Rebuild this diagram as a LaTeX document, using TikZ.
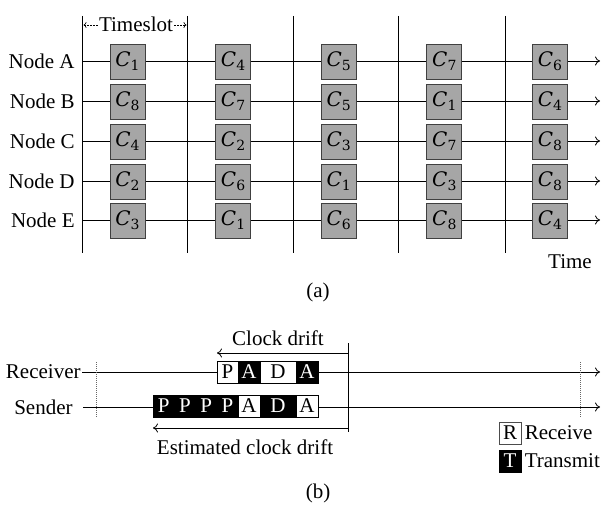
\documentclass[tikz,border=0pt]{standalone}
\usepackage{fontspec}
\setmainfont{Liberation Serif}
\newfontfamily\cfont{DejaVu Serif}
\usetikzlibrary{arrows.meta}
\newcommand{\cname}[1]{{\cfont\fontsize{20}{24}\selectfont\itshape C}{\cfont\fontsize{14}{16}\selectfont\raisebox{-4pt}{#1}}}
\begin{document}
\begin{tikzpicture}[x=1pt,y=-1pt,
  font=\fontsize{21}{25}\selectfont,
  line width=0.8pt,
  cbox/.style={draw=black!75, fill=black!35, minimum width=35pt, minimum height=35pt, inner sep=0pt},
  wcell/.style={draw=black, fill=white, text=black, minimum height=22pt, inner sep=0pt},
  bcell/.style={draw=black, fill=black, text=white, minimum height=22pt, inner sep=0pt},
  tip/.style={-{To[length=5pt,width=9pt]}},
  dots/.style={draw=black!60, dash pattern=on 1pt off 1pt},
  lbl/.style={inner sep=1pt}]
\useasboundingbox (0,0) rectangle (602,505);

% ---------- part (a) ----------
\foreach \x [count=\i] in {82.5,187.5,293,398,505} {
  \coordinate (vt\i) at (\x,16);
  \coordinate (vb\i) at (\x,253);
  \draw (vt\i) -- (vb\i);
}

\foreach \r/\y/\vals in {A/61/{1,4,5,7,6},B/101/{8,7,5,1,4},C/141/{4,2,3,7,8},D/181/{2,6,1,3,8},E/220/{3,1,6,8,4}} {
  \node[lbl, anchor=east] (lab\r) at (76,\y) {Node \r};
  \coordinate (rs\r) at (82.5,\y);
  \coordinate (re\r) at (600,\y);
  \draw[tip] (rs\r) -- (re\r);
  \foreach \c [count=\j, evaluate=\j as \xx using 127.5+(\j-1)*105.6] in \vals {
    \node[cbox] (c\r\j) at (\xx,\y+0.5) {\cname{\c}};
  }
}

\node[inner sep=1pt] (ts) at (136,24) {Timeslot};
\coordinate (tsl) at (83.5,25);
\coordinate (tsr) at (186.5,25);
\draw[dash pattern=on 2pt off 1pt, line width=0.6pt, -{To[length=3pt,width=6pt]}] (ts.west|-tsl) -- (tsl);
\draw[dash pattern=on 2pt off 1pt, line width=0.6pt, -{To[length=3pt,width=6pt]}] (ts.east|-tsr) -- (tsr);

\node (time) at (570,262) {Time};
\node (capa) at (318,292) {(a)};

% ---------- part (b) ----------
\node (cd) at (278,338) {Clock drift};
\coordinate (cdr) at (348,353);
\coordinate (cdl) at (217,353);
\draw[tip] (cdr) -- (cdl);
\coordinate (mt) at (348,343);
\coordinate (mb) at (348,432);
\draw (mt) -- (mb);

\node[lbl, anchor=east] (rcv) at (82,372) {Receiver};
\coordinate (rend) at (600,372);
\draw[tip] (rcv.east) -- (rend);

\node[lbl, anchor=east] (snd) at (74,407) {Sender};
\coordinate (ss) at (83,407);
\coordinate (send) at (600,407);
\draw[tip] (ss) -- (send);

\coordinate (dl1) at (96,362);
\coordinate (dl2) at (96,417);
\coordinate (dr1) at (580,362);
\coordinate (dr2) at (580,417);
\draw[dots] (dl1) -- (dl2);
\draw[dots] (dr1) -- (dr2);

% receiver cells
\node[wcell, minimum width=21pt] (r1) at (227.5,372) {P};
\node[bcell, minimum width=22pt] (r2) at (249,372) {A};
\node[wcell, minimum width=36pt] (r3) at (278,372) {D};
\node[bcell, minimum width=22pt] (r4) at (307,372) {A};

% sender cells
\node[bcell, minimum width=21.25pt] (s1) at (163.6,406) {P};
\node[bcell, minimum width=21.25pt] (s2) at (184.9,406) {P};
\node[bcell, minimum width=21.25pt] (s3) at (206.1,406) {P};
\node[bcell, minimum width=21.25pt] (s4) at (227.4,406) {P};
\node[wcell, minimum width=22pt] (s5) at (249,406) {A};
\node[bcell, minimum width=36pt] (s6) at (278,406) {D};
\node[wcell, minimum width=22pt] (s7) at (307,406) {A};

\coordinate (er) at (348,428);
\coordinate (el) at (153,428);
\draw[tip] (er) -- (el);
\node (ecd) at (245,447) {Estimated clock drift};

\node (capb) at (318,493) {(b)};

% legend
\node[wcell, minimum width=22pt, draw=black!70] (lr) at (510,433) {R};
\node[lbl, anchor=west] (lrt) at ([xshift=2pt]lr.east) {Receive};
\node[bcell, minimum width=22pt] (lt) at (510,461) {T};
\node[lbl, anchor=west] (ltt) at ([xshift=2pt]lt.east) {Transmit};
\end{tikzpicture}
\end{document}
